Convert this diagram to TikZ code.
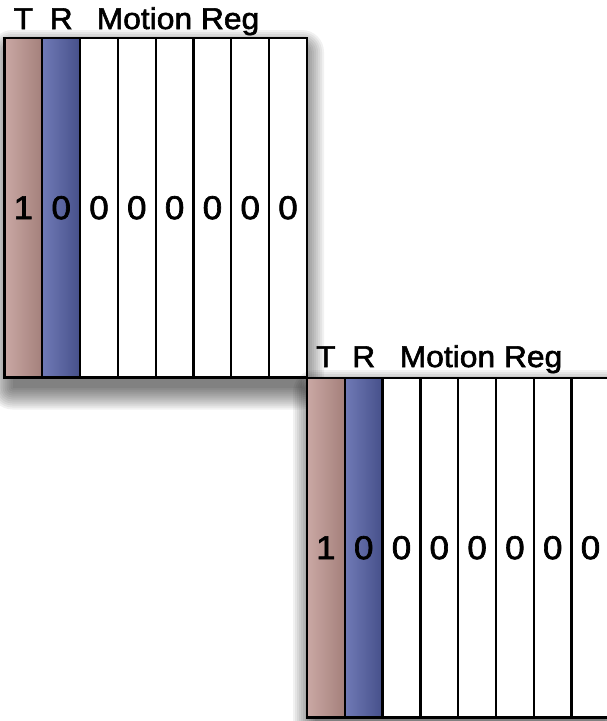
\documentclass[tikz,border=0pt]{standalone}
\usepackage{fontspec}
\newfontfamily\lab[FakeStretch=1.06,FakeBold=2]{Liberation Sans}
\definecolor{tl}{RGB}{202,168,164}
\definecolor{tr}{RGB}{164,128,123}
\definecolor{rl}{RGB}{112,122,182}
\definecolor{rr}{RGB}{70,80,138}
\begin{document}
\begin{tikzpicture}[x=1pt,y=-1pt,
  shadowlayer/.style={black, opacity=0.055},
  frame/.style={fill=white, inner sep=0pt, outer sep=0pt, anchor=north west,
    minimum width=302.5pt, minimum height=339.5pt},
  cell/.style={draw=black, line width=2.3pt, minimum width=37.8pt, minimum height=339.5pt,
    inner sep=0pt, outer sep=0pt, anchor=north west, font=\lab\fontsize{33}{33}\selectfont},
  tcell/.style={cell, left color=tl, right color=tr},
  rcell/.style={cell, left color=rl, right color=rr},
  wcell/.style={cell, fill=white},
  lbl/.style={inner sep=0pt, font=\lab\fontsize{30}{30}\selectfont}
]
\useasboundingbox (0,0) rectangle (607,721);
% soft shadow of block 1
\foreach \r in {0,2,...,22}{
  \fill[shadowlayer, rounded corners=\r pt] ({4.5+8-\r},{38+14-\r}) rectangle ({307-5+\r},{377.5+10+\r});
}
% block 1
\node[frame] (f1) at (4.5,38) {};
\node[tcell] (a0) at (4.5,38) {1};
\node[rcell] (a1) at (42.3,38) {0};
\foreach \i in {2,...,7}{
  \node[wcell] (a\i) at ({4.5+37.8*\i},38) {0};
}
\node[lbl, anchor=base] (lt1) at (23.4,29) {T};
\node[lbl, anchor=base] (lr1) at (61.2,29) {R};
\node[lbl, anchor=base west] (lm1) at (96.5,29) {Motion Reg};
% soft shadow of block 2
\foreach \r in {0,2,...,22}{
  \fill[shadowlayer, rounded corners=\r pt] ({307+8-\r},{378+14-\r}) rectangle ({609.5-5+\r},{717.5+10+\r});
}
% block 2
\node[frame] (f2) at (307,378) {};
\node[tcell] (b0) at (307,378) {1};
\node[rcell] (b1) at (344.8,378) {0};
\foreach \i in {2,...,7}{
  \node[wcell] (b\i) at ({307+37.8*\i},378) {0};
}
\node[lbl, anchor=base] (lt2) at (325.9,367) {T};
\node[lbl, anchor=base] (lr2) at (363.7,367) {R};
\node[lbl, anchor=base west] (lm2) at (399.5,367) {Motion Reg};
\end{tikzpicture}
\end{document}
